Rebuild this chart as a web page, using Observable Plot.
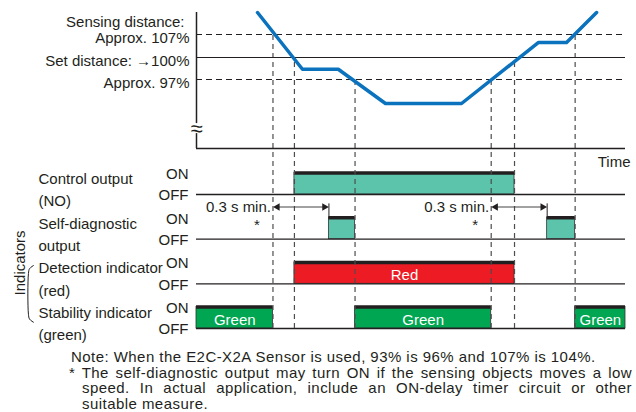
<!DOCTYPE html>
<html><head><meta charset="utf-8">
<script src="https://cdn.jsdelivr.net/npm/d3@7"></script>
<script src="https://cdn.jsdelivr.net/npm/@observablehq/plot@0.6"></script>
<style>
body{margin:0;background:#fff;}
#wrap{position:relative;width:636px;height:412px;overflow:hidden;font-family:"Liberation Sans",Arial,sans-serif;color:#231f20;}
#wrap svg{position:absolute;left:0;top:0;}
#notes{position:absolute;left:69px;top:349px;width:563px;font-size:15px;line-height:15.6px;letter-spacing:0.45px;}
#notes .j{text-align:justify;text-align-last:justify;}
#notes .ind{padding-left:13px;}
</style></head><body>
<div id="wrap"></div>
<script>
// ---------- data ----------
const timeDomain = [0, 2.3];                       // time, s
const distanceT = [0.327, 0.568, 0.76, 1.013, 1.421, 1.834, 1.984, 2.145];
const distanceP = [114, 98.4, 98.4, 93, 93, 104.6, 104.6, 114];   // distance, %
const distanceDomain = [80, 93, 97, 100, 107, 114];
const schematicHeight = [0, 45, 69, 91, 114, 136];  // schematic (not-to-scale) drawing height of each distance
const axisBreak = [84.3, 87.2];
const refLevels = [107, 100, 97];
const refDashed = [true, false, true];
const refLabels = ["Approx. 107%", "Set distance: \u2192100%", "Approx. 97%"];
const sensingLabel = "Sensing distance:";
const crossT = [0.41, 0.525, 0.85, 1.58, 1.705, 2.03];
const crossLevel = [107, 100, 97, 97, 100, 107];
const rowNames = ["Control output", "Self-diagnostic", "Detection indicator", "Stability indicator"];
const rowSub = ["(NO)", "output", "(red)", "(green)"];
const rowColors = ["#5bc4ab", "#5bc4ab", "#ed1c24", "#00a651"];
const onStart = [[0.525], [0.71, 1.88], [0.525], [0, 0.85, 2.03]];
const onEnd = [[1.705], [0.85, 2.03], [1.705], [0.41, 1.58, 2.3]];
const onLabel = [[""], ["", ""], ["Red"], ["Green", "Green", "Green"]];
const delayStart = [0.41, 1.58];
const delayEnd = [0.71, 1.88];
const delayText = "0.3 s min.";
const noteText = "Note: When the E2C-X2A Sensor is used, 93% is 96% and 107% is 104%.";
const starLines = [
  "* The self-diagnostic output may turn ON if the sensing objects moves a low",
  "speed. In actual application, include an ON-delay timer circuit or other",
  "suitable measure."
];

// ---------- layout ----------
const INK = "#231f20";
const FONT = "Liberation Sans, Arial, sans-serif";
const styleObj = {background: "transparent", fontFamily: FONT, fontSize: "15px", color: INK, overflow: "visible"};
const xOpt = {domain: timeDomain, range: [196, 625], axis: null};
const [t0, tEnd] = timeDomain;
const f = d3.scaleLinear().domain(distanceDomain).range(schematicHeight); // schematic distance axis
const pBase = distanceDomain[0], pTop = distanceDomain[distanceDomain.length - 1];

const refs = refLevels.map((level, i) => ({level, dashed: refDashed[i], label: refLabels[i]}));
const curve = distanceT.map((t, i) => ({t, p: distanceP[i]}));
const axisSegs = [{y1: axisBreak[1], y2: pTop}, {y1: pBase, y2: axisBreak[0]}];

const topPlot = Plot.plot({
  width: 636, height: 175, margin: 0,
  x: xOpt,
  y: {domain: [f(pBase), f(pTop)], range: [148, 12], axis: null},
  style: styleObj,
  marks: [
    Plot.ruleY(refs.filter(d => d.dashed), {y: d => f(d.level), x1: t0, x2: tEnd, stroke: INK, strokeWidth: 1.1, strokeDasharray: "6,4"}),
    Plot.ruleY(refs.filter(d => !d.dashed), {y: d => f(d.level), x1: t0, x2: tEnd, stroke: INK, strokeWidth: 1.1}),
    Plot.ruleY([pBase], {y: d => f(d), x1: t0, x2: tEnd, stroke: INK, strokeWidth: 1.5}),
    Plot.ruleX(axisSegs, {x: t0, y1: d => f(d.y1), y2: d => f(d.y2), stroke: INK, strokeWidth: 1.5}),
    Plot.text([(axisBreak[0] + axisBreak[1]) / 2], {x: t0, y: d => f(d), text: () => "\u2248", fontSize: 22, lineAnchor: "middle", dy: 0}),
    Plot.line(curve, {x: "t", y: d => f(d.p), stroke: "#0b72bd", strokeWidth: 3.5}),
    Plot.text(refs, {x: t0, y: d => f(d.level), text: "label", textAnchor: "end", dx: -7, dy: 4, fontSize: 15}),
    Plot.text([refLevels[0]], {x: t0, y: d => f(d), text: () => sensingLabel, textAnchor: "end", dx: -12, dy: -12, fontSize: 15}),
    Plot.text(["Time"], {x: tEnd, y: f(pBase), text: d => d, textAnchor: "end", dx: 5, dy: 14, fontSize: 15})
  ]
});

const ON = 0.48;
const yTiming = {domain: [0, 3], range: [328, 194]};
const rows = rowNames.map((name, i) => ({name, sub: rowSub[i], level: 3 - i, color: rowColors[i]}));
const pulses = rows.flatMap((r, i) => onStart[i].map((s, j) => ({row: r.level, t1: s, t2: onEnd[i][j], color: r.color, label: onLabel[i][j]})));
const topY = topPlot.scale("y");
const timY = Plot.scale({y: yTiming});
const dashes = crossT.map((t, i) => ({t, y1: 0, y2: timY.invert(topY.apply(f(crossLevel[i])))}));
const diagLevel = rows[1].level;
const arrowLevel = diagLevel + 0.72;
const delays = delayStart.map((s, i) => ({s, e: delayEnd[i]}));
const headOff = 0.024;
const braceTop = rows[2].level + ON - 0.07, braceBot = rows[3].level + 0.14;
const brace = [
  {t: -0.874, y: braceTop}, {t: -0.895, y: braceTop - 0.07}, {t: -0.901, y: braceTop - 0.18},
  {t: -0.901, y: braceBot + 0.18}, {t: -0.895, y: braceBot + 0.07}, {t: -0.874, y: braceBot}
];

const timingPlot = Plot.plot({
  width: 636, height: 345, margin: 0,
  x: xOpt,
  y: {...yTiming, axis: null},
  style: styleObj,
  marks: [
    Plot.rect(pulses, {x1: "t1", x2: "t2", y1: "row", y2: d => d.row + ON, fill: "color", stroke: "#333", strokeWidth: 0.8}),
    Plot.ruleY(rows, {y: "level", x1: t0, x2: tEnd, stroke: INK, strokeWidth: 1.3}),
    Plot.ruleY(pulses, {y: d => d.row + ON, x1: "t1", x2: "t2", stroke: INK, strokeWidth: 3.5}),
    Plot.ruleX(dashes, {x: "t", y1: "y1", y2: "y2", stroke: "#4d4d4d", strokeWidth: 1.2, strokeDasharray: "5,4"}),
    Plot.text(pulses.filter(d => d.label), {x: d => (d.t1 + d.t2) / 2, y: d => d.row + ON / 2, text: "label", fill: "white", dy: 2, fontSize: 15}),
    Plot.text(rows, {x: t0, y: d => d.level + ON, text: () => "ON", textAnchor: "end", dx: -8, dy: 1, fontSize: 15}),
    Plot.text(rows, {x: t0, y: "level", text: () => "OFF", textAnchor: "end", dx: -8, dy: 1, fontSize: 15}),
    Plot.text(rows, {frameAnchor: "left", y: d => d.level + ON, text: "name", textAnchor: "start", dx: 38, dy: 6, fontSize: 15}),
    Plot.text(rows, {frameAnchor: "left", y: "level", text: "sub", textAnchor: "start", dx: 38, dy: 7, fontSize: 15}),
    // 0.3 s min. delay arrows
    Plot.link(delays, {x1: d => d.s + headOff, x2: d => d.e - headOff, y1: arrowLevel, y2: arrowLevel, stroke: "#444", strokeWidth: 1}),
    Plot.dot(delays, {x: d => d.s + headOff, y: arrowLevel, symbol: "triangle", rotate: -90, r: 2.8, fill: INK, stroke: "none"}),
    Plot.dot(delays, {x: d => d.e - headOff, y: arrowLevel, symbol: "triangle", rotate: 90, r: 2.8, fill: INK, stroke: "none"}),
    Plot.ruleX(delays, {x: "e", y1: diagLevel + ON, y2: diagLevel + 0.79, stroke: INK, strokeWidth: 1}),
    Plot.text(delays, {x: "s", y: arrowLevel, text: () => delayText, textAnchor: "end", dx: -2, fontSize: 15}),
    Plot.text(delays, {x: "s", y: diagLevel + 0.31, text: () => "*", dx: -16, fontSize: 15}),
    // Indicators brace
    Plot.line(brace, {x: "t", y: "y", curve: "catmull-rom", stroke: INK, strokeWidth: 1}),
    Plot.text(["Indicators"], {frameAnchor: "left", y: (rows[2].level + ON + rows[3].level) / 2, text: d => d, rotate: -90, dx: 20, fontSize: 15})
  ]
});

const wrap = document.getElementById("wrap");
wrap.appendChild(timingPlot);
wrap.appendChild(topPlot);
const notes = document.createElement("div");
notes.id = "notes";
const n1 = document.createElement("div"); n1.style.paddingLeft = "2px"; n1.textContent = noteText;
notes.appendChild(n1);
starLines.forEach((line, i) => {
  const d = document.createElement("div");
  d.className = (i < starLines.length - 1 ? "j" : "") + (i > 0 ? " ind" : "");
  d.textContent = line;
  notes.appendChild(d);
});
wrap.appendChild(notes);
</script>
</body></html>
